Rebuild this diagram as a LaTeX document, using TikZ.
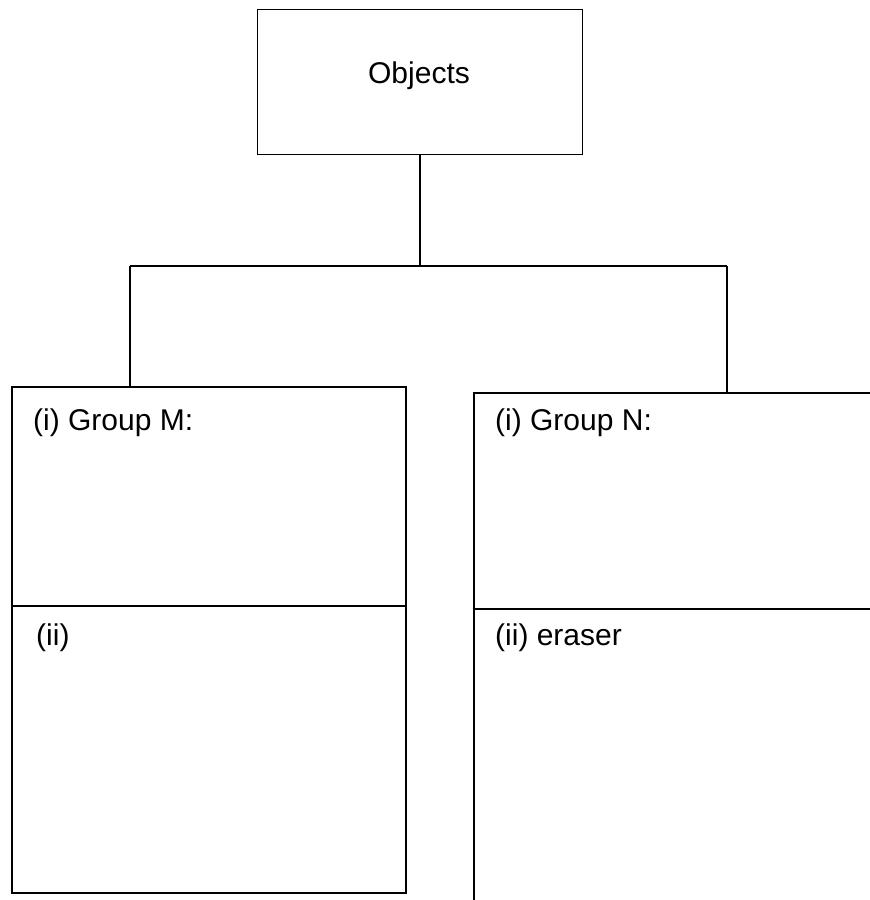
\documentclass[tikz,border=0pt]{standalone}
\usepackage{fontspec}
\setmainfont{Liberation Sans}
\usetikzlibrary{positioning}

\begin{document}
\begin{tikzpicture}[x=1pt,y=-1pt,
    topbox/.style={draw,line width=1.8pt,minimum width=325pt,minimum height=145pt,inner sep=0pt},
    groupbox/.style={draw,line width=2.8pt,inner sep=0pt},
    label/.style={anchor=base west,inner sep=0pt},
    link/.style={line width=1.4pt}]
            \useasboundingbox (0,0) rectangle (870,900);
            \clip (0,0) rectangle (870,900);
            \node[topbox] (objects) at (420,82) {};
            \node (objtext) at (419,76) {\fontsize{30}{36}\selectfont Objects};

            \node[groupbox,minimum width=394pt,minimum height=506pt] (left) at (209,640) {};
            \node[groupbox,minimum width=430pt,minimum height=530pt] (right) at (689,658) {};

            \coordinate (lt) at (130,266);
            \coordinate (rt) at (727,266);
            \draw[link] (objects.south) -- (objects.south |- lt);
            \draw[link] (lt) -- (rt);
            \draw[link] (lt) -- (lt |- left.north);
            \draw[link] (rt) -- (rt |- right.north);

            \draw[line width=1.6pt] (left.west |- 0,606) -- (left.east |- 0,606);
            \draw[line width=1.6pt] (right.west |- 0,609) -- (right.east |- 0,609);

            \node[label] (gm) at (33,430) {\fontsize{30}{36}\selectfont (i) Group M:};
            \node[label] (m2) at (36,645) {\fontsize{30}{36}\selectfont (ii)};
            \node[label] (gn) at (495,430) {\fontsize{30}{36}\selectfont (i) Group N:};
            \node[label] (n2) at (495,645) {\fontsize{30}{36}\selectfont (ii) eraser};
        \end{tikzpicture}
\end{document}
